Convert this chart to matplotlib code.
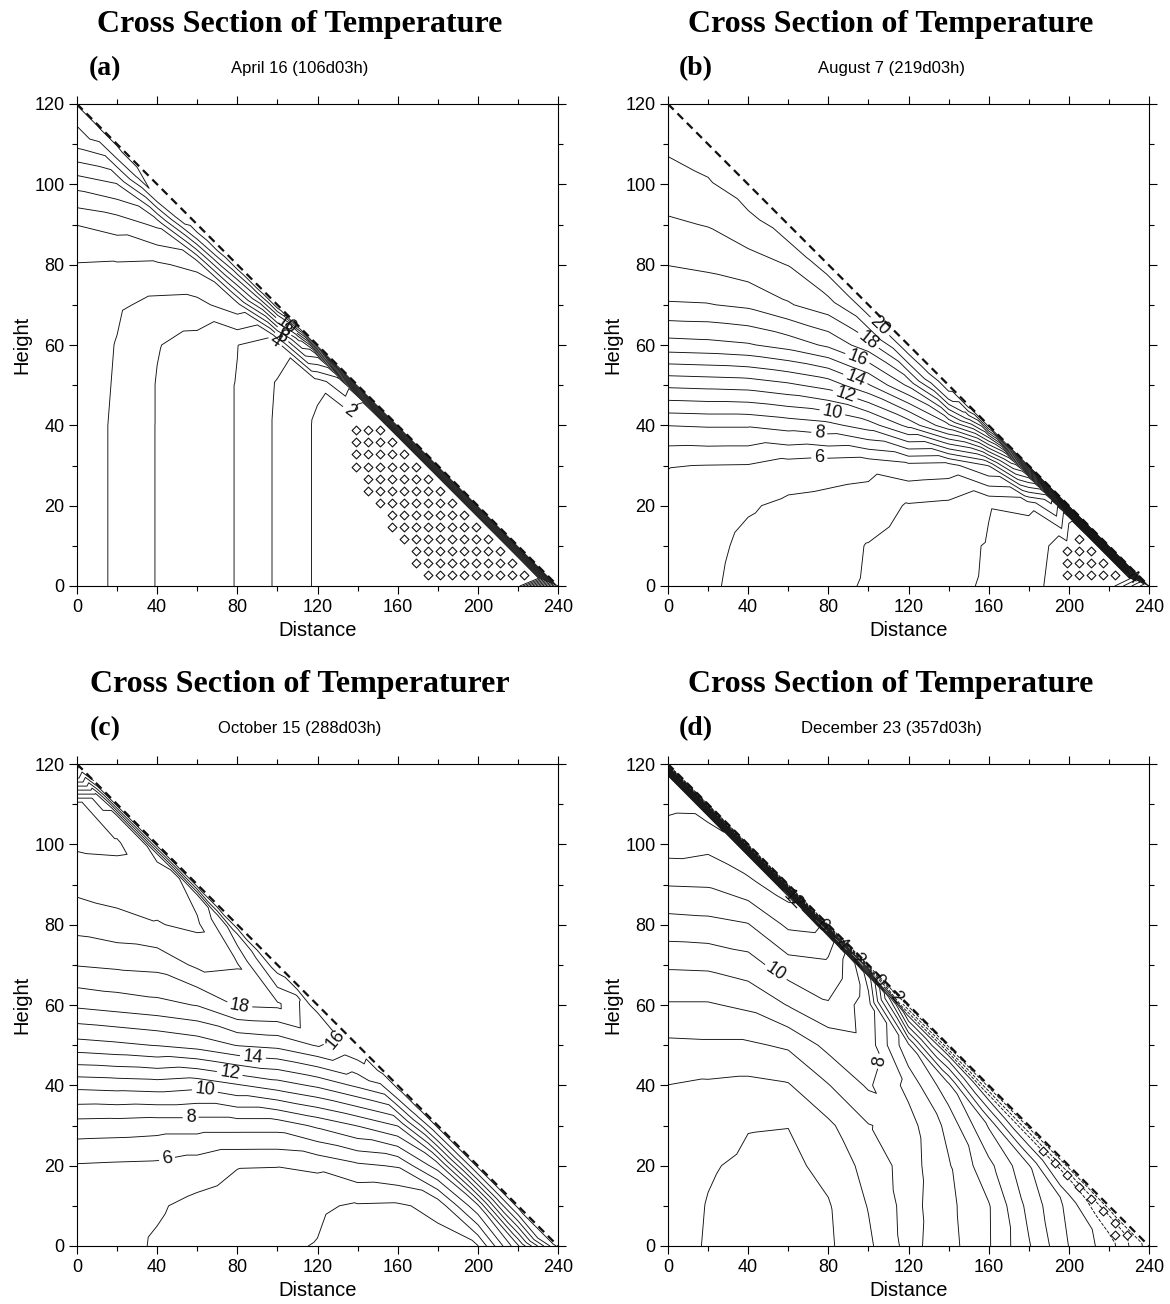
import warnings
import numpy as np
import matplotlib
matplotlib.use("Agg")
import matplotlib.pyplot as plt
import matplotlib.tri as mtri
from matplotlib.ticker import MultipleLocator

warnings.filterwarnings("ignore")
plt.rcParams['font.family'] = ['Liberation Sans', 'DejaVu Sans']

W, H = 1170, 1304

# field nodes: regular grid below the slope, one row just under it, one row on it
grid_x = np.arange(0, 241, 20)
grid_z = np.arange(0, 121, 10)
edge_x = np.arange(0, 241, 10)
near_x = np.arange(0, 231, 10)
near_depth = 3.0
slope_x = [0, 240]
slope_z = [120, 0]

# ---- April 16: grid rows from z=0 upward (x = 0, 20, 40, ...)
apr_rows = [
    [6.5, 5.85, 4.95, 4.45, 3.96, 2.85, 1.85, 1.75, 1.6, 1.45, 1.4, 1.4],
    [6.5, 5.85, 4.95, 4.45, 3.96, 2.85, 1.85, 1.7, 1.52, 1.4, 1.35],
    [6.5, 5.85, 4.95, 4.45, 3.96, 2.85, 1.85, 1.6, 1.42, 1.35],
    [6.5, 5.85, 4.95, 4.45, 3.96, 2.85, 1.85, 1.45, 1.35],
    [6.5, 5.85, 4.95, 4.45, 3.96, 2.85, 1.85, 1.4],
    [6.55, 5.9, 4.95, 4.45, 3.96, 2.92, 2.15],
    [6.6, 5.95, 5.05, 4.6, 4.02, 3.4],
    [6.75, 6.15, 5.75, 5.7, 6.6],
    [6.95, 6.9, 6.85, 7.3],
    [8.03, 8.4, 9.2],
    [10.35, 10.95],
    [13.3],
]
apr_near = [14.4, 14.4, 14.3, 14.15, 13.9, 13.3, 12.5, 12.05, 11.5, 11.05, 10.5, 8.5,
            6.05, 4.05, 2.2, 1.45, 1.3, 1.3, 1.3, 1.3, 1.3, 1.3, 1.35, 1.6]
apr_edge = [13.95, 13.95, 13.95, 13.95, 13.95, 13.95, 13.95, 13.95, 13.95, 13.95,
            13.95, 13.95, 13.95, 13.95, 13.95, 13.95, 13.95, 13.95, 13.95, 13.95,
            13.95, 13.95, 13.95, 13.95, 13.95]

# ---- August 7
aug_rows = [
    [5.6, 5.2, 4.6, 4.4, 4.25, 3.9, 3.4, 3.2, 2.9, 2.3, 1.5, 1.3],
    [5.65, 5.3, 4.75, 4.55, 4.4, 3.95, 3.5, 3.3, 2.93, 2.4, 1.6],
    [5.75, 5.5, 5.1, 4.8, 4.7, 4.55, 3.9, 3.75, 3.05, 3.2],
    [6.03, 5.98, 5.95, 5.55, 5.4, 5.3, 5.7, 5.6, 7.05],
    [8.02, 8.1, 8.1, 8.4, 8.7, 9.5, 11.3, 13.8],
    [11.2, 11.3, 11.4, 11.8, 12.4, 13.9, 16.2],
    [14.6, 14.7, 14.9, 15.4, 16.2, 17.6],
    [16.9, 16.95, 17.2, 17.9, 18.6],
    [18.03, 18.25, 18.6, 19.03],
    [18.85, 19.05, 19.6],
    [19.55, 19.9],
    [20.2],
]
aug_near = [20.5, 20.45, 20.3, 20.35, 20.4, 20.3, 20.2, 20.1, 19.95, 19.95, 19.9, 19.85,
            19.8, 19.7, 19.4, 17.5, 15.05, 12.05, 9.05, 5.5, 2.1, 1.5, 1.6, 1.7]
aug_edge = [20.6, 20.6, 20.6, 20.6, 20.6, 20.6, 20.6, 20.6, 20.6, 20.6,
            20.6, 20.6, 20.6, 20.6, 20.6, 20.6, 20.6, 20.6, 20.6, 20.6,
            20.6, 20.6, 20.6, 20.6, 6.05]

# ---- October 15
oct_rows = [
    [5.55, 5.3, 4.9, 4.6, 4.3, 4.1, 3.97, 3.55, 3.5, 3.6, 3.95, 8.8],
    [5.6, 5.35, 5.1, 4.75, 4.5, 4.3, 4.12, 3.9, 3.85, 4.3, 7.8],
    [5.92, 5.85, 5.8, 5.5, 5.05, 5.03, 5.2, 5.8, 6.1, 8.5],
    [7.55, 7.5, 7.4, 7.4, 7.4, 7.4, 8.2, 9.05, 10.05],
    [10.3, 10.4, 10.5, 10.3, 10.9, 11.5, 12.2, 13.2],
    [13.6, 13.8, 14.05, 14.4, 15.05, 15.3, 16.1],
    [16.2, 16.45, 16.7, 17.05, 18.1, 18.2],
    [18.05, 18.2, 18.3, 19.2, 19.1],
    [19.35, 19.65, 19.95, 20.2],
    [20.3, 20.5, 20.4],
    [21.15, 21.2],
    [21.5],
]
oct_near = [14.5, 19.5, 20.2, 20.1, 19.9, 20.05, 19.6, 18.5, 17.5, 16.8, 16.3, 17.1,
            16.4, 16.05, 15.2, 14.6, 14.2, 13.9, 13.6, 13.5, 13.4, 13.4, 13.5, 14.05]
oct_edge = [13.5, 15.3, 15.3, 15.3, 15.3, 15.3, 15.3, 15.3, 15.3, 15.3,
            15.3, 15.3, 15.3, 15.3, 15.3, 15.3, 15.3, 15.3, 15.3, 15.3,
            15.3, 15.3, 15.3, 15.3, 15.3]

# ---- December 23
dec_rows = [
    [5.5, 4.9, 4.6, 4.55, 4.85, 5.8, 7.35, 6.35, 5.1, 3.1, 0.98, -0.5],
    [5.55, 4.95, 4.62, 4.6, 4.92, 6.05, 7.4, 6.25, 5.08, 2.7, 0.7],
    [5.65, 5.1, 4.8, 4.75, 5.3, 6.35, 7.45, 6.1, 4.3, 2.1],
    [5.8, 5.5, 5.05, 5.02, 5.8, 6.95, 7.4, 5.7, 2.9],
    [5.99, 5.85, 5.75, 5.92, 6.95, 8.15, 6.7, 4.3],
    [6.8, 6.85, 6.85, 7.15, 8.3, 8.6, 5.2],
    [7.9, 7.9, 8.2, 9.05, 9.9, 8.5],
    [9.15, 9.2, 9.55, 10.6, 10.8],
    [10.6, 10.7, 10.95, 12.2],
    [12.05, 12.1, 12.7],
    [13.5, 13.3],
    [14.2],
]
dec_near = [14.5, 14.4, 14.2, 13.95, 13.7, 13.5, 13.2, 12.6, 11.5, 9.7, 7.5, 3.05,
            0.3, 0.3, 0.5, 0.1, -0.3, -0.6, -0.8, -0.95, -1.05, -1.3, -1.6, -2.1]
dec_edge = [-3.5, -3.5, -3.5, -3.5, -3.5, -3.5, -3.5, -3.5, -3.5, -3.5,
            -3.5, -3.5, -3.5, -3.5, -3.5, -3.5, -3.5, -3.5, -3.5, -3.5,
            -3.5, -3.5, -3.5, -3.5, -3.5]

# contour label anchors (level, x, z)
apr_labels = [(2, 136, 43.5), (4, 99, 61), (6, 104, 63.5), (8, 106, 65.5), (10, 108, 67.5)]
aug_labels = [(6, 75.5, 31.8), (8, 75.5, 38.4), (10, 82, 43.2), (12, 88, 47.1),
              (14, 93, 51), (16, 94, 56), (18, 99.7, 61), (20, 106.4, 65), (4, 231, 1.5)]
oct_labels = [(6, 44.7, 22.2), (8, 56.7, 32), (10, 63.4, 37.6), (12, 76, 42.3),
              (14, 87.7, 46.6), (16, 128.7, 51.9), (18, 81, 59.8)]
dec_labels = [(10, 53.4, 67.9), (8, 106, 46), (12, 62, 86), (6, 77, 80),
              (4, 86, 75), (2, 94, 71), (0, 105, 66), (-2, 113, 62)]


def build_field(rows, near, edge):
    xs, zs, ts = [], [], []
    gid = {}
    for k, row in enumerate(rows):
        for i, t in enumerate(row):
            gid[(i, k)] = len(xs)
            xs.append(grid_x[i]); zs.append(grid_z[k]); ts.append(t)
    nid, eid = [], []
    for x, t in zip(near_x, near):
        nid.append(len(xs))
        xs.append(x); zs.append(120 - x / 2 - near_depth); ts.append(t)
    for x, t in zip(edge_x, edge):
        eid.append(len(xs))
        xs.append(x); zs.append(120 - x / 2); ts.append(t)

    ncol = len(rows[0])
    tris = []
    # grid cells, split along the slope direction
    for i in range(ncol - 1):
        for k in range(ncol - 1 - i):
            a, b, c = gid[(i, k)], gid[(i + 1, k)], gid[(i, k + 1)]
            tris.append([a, b, c])
            if (i + 1, k + 1) in gid:
                tris.append([b, gid[(i + 1, k + 1)], c])
    # strip between the top grid nodes and the row under the slope
    top = [gid[(i, ncol - 1 - i)] for i in range(ncol)]
    for i in range(ncol - 1):
        n0, n1, n2 = nid[2 * i], nid[2 * i + 1], nid[2 * i + 2]
        tris += [[top[i], n1, n0], [top[i], top[i + 1], n1], [top[i + 1], n2, n1]]
    tris.append([top[-1], nid[-1], nid[-2]])
    tris.append([top[-1], eid[-1], nid[-1]])
    # thin strip between the slope and the row under it
    for j in range(len(nid)):
        if j + 1 < len(nid):
            tris += [[eid[j], nid[j + 1], eid[j + 1]], [eid[j], nid[j], nid[j + 1]]]
        else:
            tris += [[eid[j], nid[j], eid[j + 1]]]
    return mtri.Triangulation(xs, zs, triangles=np.array(tris)), np.array(ts)


def draw_panel(ax, rows, near, edge, levels, labels, mark_below):
    tri, t = build_field(rows, near, edge)
    # one contour set per level so each label lands on its own isotherm
    for lev in levels:
        cs = ax.tricontour(tri, t, levels=[lev], colors='#111111', linewidths=0.65)
        pos = [(lx, lz) for l, lx, lz in labels if l == lev]
        if pos:
            ax.clabel(cs, manual=pos, inline=True, fmt='%d', fontsize=13,
                      inline_spacing=3)
    if mark_below is not None:
        # diamonds on the model points that sit in the coldest water
        interp = mtri.LinearTriInterpolator(tri, t)
        px, pz = np.meshgrid(np.arange(1, 240, 6), np.arange(2.75, 120, 3))
        tv = interp(px, pz)
        ok = (~np.ma.getmaskarray(tv)) & (np.ma.filled(tv, 99) < mark_below) \
            & (pz < 120 - px / 2 - 1)
        ax.scatter(px[ok], pz[ok], marker='D', s=20, facecolors='white',
                   edgecolors='#111111', linewidths=0.8, zorder=2.5)
    ax.plot(slope_x, slope_z, color='#111111', lw=1.6, ls=(0, (3.6, 2.4)), zorder=4)

    ax.set_xlim(0, 240)
    ax.set_ylim(0, 120)
    ax.xaxis.set_major_locator(MultipleLocator(40))
    ax.xaxis.set_minor_locator(MultipleLocator(20))
    ax.yaxis.set_major_locator(MultipleLocator(20))
    ax.yaxis.set_minor_locator(MultipleLocator(10))
    ax.tick_params(which='both', direction='out', top=True, right=True,
                   labelsize=13, width=0.8, pad=3)
    ax.tick_params(which='major', length=6)
    ax.tick_params(which='minor', length=3.5)
    for sp in ax.spines.values():
        sp.set_linewidth(0.8)
    ax.set_xlabel('Distance', fontsize=14.5, labelpad=4)
    ax.set_ylabel('Height', fontsize=14.5, labelpad=2)


fig = plt.figure(figsize=(W / 100, H / 100), dpi=100)

panels = [
    (77, 104, apr_rows, apr_near, apr_edge, np.arange(1, 15), apr_labels, 1.5,
     '(a)', 'Cross Section of Temperature', 'April 16 (106d03h)'),
    (668, 104, aug_rows, aug_near, aug_edge, np.arange(1, 22), aug_labels, 1.75,
     '(b)', 'Cross Section of Temperature', 'August 7 (219d03h)'),
    (77, 764, oct_rows, oct_near, oct_edge, np.arange(3, 22), oct_labels, None,
     '(c)', 'Cross Section of Temperaturer', 'October 15 (288d03h)'),
    (668, 764, dec_rows, dec_near, dec_edge, np.arange(-3, 15), dec_labels, -1.12,
     '(d)', 'Cross Section of Temperature', 'December 23 (357d03h)'),
]

for left, top, rows, near, edge, levels, labels, mark, tag, title, date in panels:
    ax = fig.add_axes([left / W, 1 - (top + 482) / H, 481 / W, 482 / H])
    draw_panel(ax, rows, near, edge, levels, labels, mark)
    cx = left + 223
    fig.text(cx / W, 1 - (top - 72) / H, title, ha='center', va='baseline',
             family='Liberation Serif', weight='bold', fontsize=23)
    fig.text(cx / W, 1 - (top - 31) / H, date, ha='center', va='baseline', fontsize=12)
    fig.text((left + 28) / W, 1 - (top - 29) / H, tag, ha='center', va='baseline',
             family='Liberation Serif', weight='bold', fontsize=20)

fig.savefig('out.png', dpi=100)
